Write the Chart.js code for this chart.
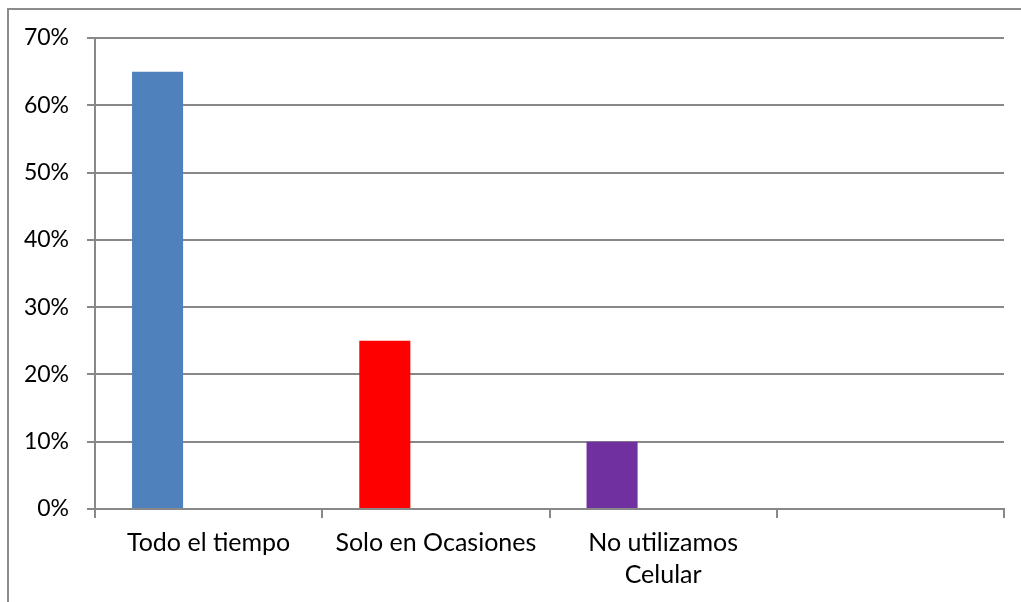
<!DOCTYPE html>
<html>
<head>
<meta charset="utf-8">
<script src="https://cdn.jsdelivr.net/npm/chart.js@4/dist/chart.umd.min.js"></script>
<style>
  html, body { margin: 0; padding: 0; background: #fff; }
  #marco { position: absolute; left: 7px; top: 8px; width: 1030px; height: 610px;
           border-left: 2px solid #8c8c8c; border-top: 2px solid #8c8c8c; }
  #wrap { position: absolute; left: 0; top: 0; width: 1021px; height: 602px; }
</style>
</head>
<body>
<div id="marco"></div>
<div id="wrap"><canvas id="barChart"></canvas></div>
<script>
// categorias y valores (%)
var categorias = ["Todo el tiempo", "Solo en Ocasiones", ["No utilizamos", "Celular"], ""];
var valores = [65, 25, 10, null];
var colores = ['#4F81BD', '#FF0000', '#7030A0', '#4F81BD'];
var ticksY = [0, 10, 20, 30, 40, 50, 60, 70];

var gris = '#888888';
var fuenteX = { family: 'Lato, "Open Sans", sans-serif', size: 25, lineHeight: 1.28 };
var fuenteY = { family: 'Lato, "Open Sans", sans-serif', size: 23 };

var ctx = document.getElementById('barChart');
var grafico = new Chart(ctx, {
    type: 'bar',
    data: {
        labels: categorias,
        datasets: [{
            label: 'Serie 1',
            data: valores,
            backgroundColor: colores,
            borderWidth: 0
        }, {
            label: 'Serie 2',
            data: [null, null, null, null]
        }, {
            label: 'Serie 3',
            data: [null, null, null, null]
        }]
    },
    options: {
        responsive: true,
        maintainAspectRatio: false,
        animation: false,
        categoryPercentage: 0.674,
        barPercentage: 1,
        layout: { padding: { left: 0, right: 17, top: 38, bottom: 0 } },
        plugins: { legend: { display: false }, tooltip: { enabled: false } },
        scales: {
            x: {
                grid: { offset: true, drawOnChartArea: false, drawTicks: true, tickLength: 9, color: gris, lineWidth: 2 },
                border: { color: gris, width: 2 },
                ticks: { color: '#000', font: fuenteX, padding: 9, maxRotation: 0, autoSkip: false },
                afterFit: function (axis) { axis.height = 93; }
            },
            y: {
                min: 0,
                max: 70,
                afterBuildTicks: function (axis) { axis.ticks = ticksY.map(function (v) { return { value: v }; }); },
                grid: { color: gris, lineWidth: 2, tickLength: 8 },
                border: { color: gris, width: 2 },
                ticks: {
                    color: '#000', font: fuenteY, padding: 18,
                    callback: function (v) { return v + '%'; }
                },
                afterFit: function (axis) { axis.width = 95; }
            }
        }
    }
});
</script>
</body>
</html>
